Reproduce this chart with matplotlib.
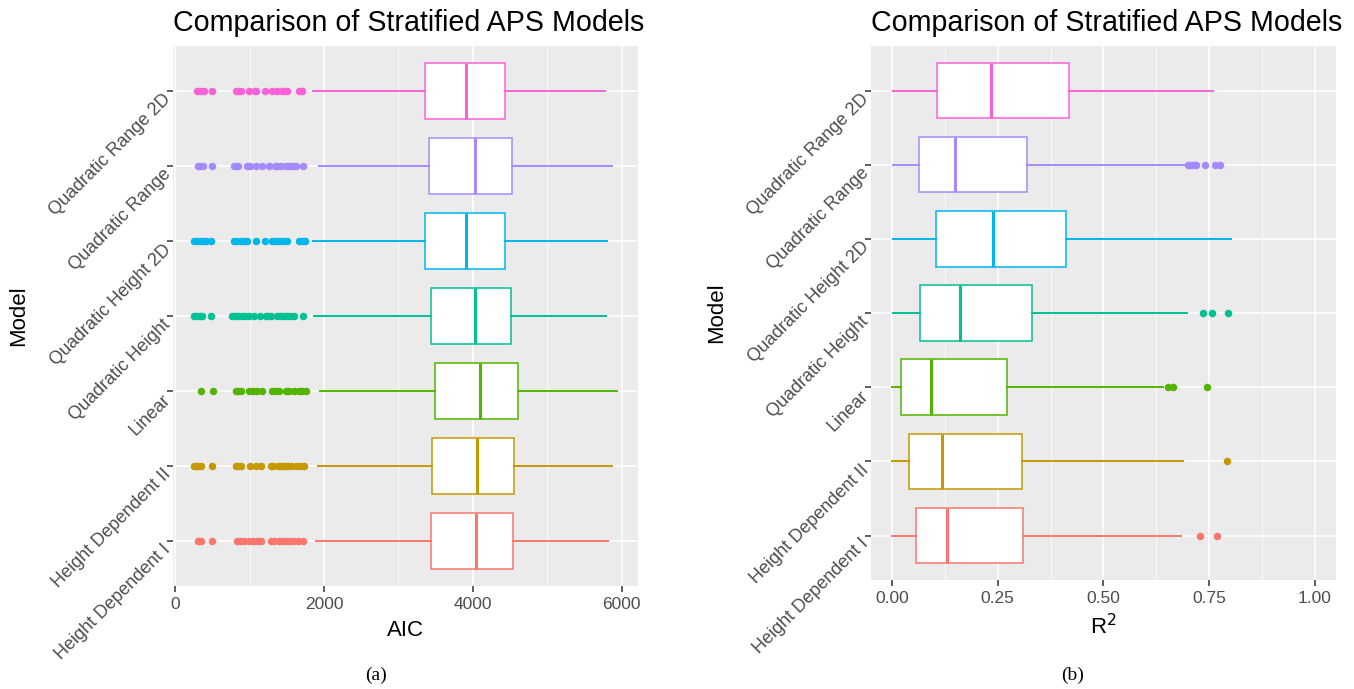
import numpy as np
import matplotlib
matplotlib.use("Agg")
import matplotlib.pyplot as plt
from matplotlib.ticker import MultipleLocator

plt.rcParams['font.family'] = ['Liberation Sans', 'DejaVu Sans']

# categories, bottom to top
models = ["Height Dependent I", "Height Dependent II", "Linear", "Quadratic Height",
          "Quadratic Height 2D", "Quadratic Range", "Quadratic Range 2D"]
colors = ["#F8766D", "#C49A00", "#53B400", "#00C094", "#00B6EB", "#A58AFF", "#FB61D7"]

# AIC box stats
aic_lo = [1895, 1917, 1944, 1863, 1850, 1930, 1850]
aic_q1 = [3434, 3456, 3488, 3434, 3358, 3412, 3358]
aic_med = [4047, 4060, 4091, 4025, 3913, 4034, 3903]
aic_q3 = [4540, 4553, 4607, 4513, 4427, 4521, 4427]
aic_hi = [5815, 5868, 5935, 5788, 5801, 5868, 5779]
aic_out = [
    [300, 320, 350, 499, 835, 870, 930, 990, 1040, 1100, 1150, 1290, 1330, 1390, 1430, 1480, 1530, 1580, 1650, 1720],
    [250, 280, 310, 340, 499, 812, 840, 879, 1000, 1080, 1148, 1290, 1320, 1380, 1420, 1460, 1500, 1560, 1620, 1680, 1729],
    [342, 503, 812, 845, 879, 990, 1040, 1103, 1170, 1305, 1340, 1393, 1483, 1530, 1595, 1661, 1700, 1752],
    [250, 290, 330, 365, 481, 768, 800, 840, 900, 940, 990, 1054, 1138, 1215, 1250, 1282, 1372, 1410, 1450, 1500, 1540, 1595, 1715],
    [250, 290, 330, 370, 410, 476, 790, 830, 880, 930, 970, 1080, 1200, 1305, 1350, 1400, 1450, 1506, 1660, 1700, 1750],
    [300, 335, 370, 490, 790, 820, 850, 970, 1010, 1080, 1170, 1260, 1335, 1370, 1415, 1483, 1520, 1560, 1590, 1617, 1715],
    [290, 320, 350, 380, 490, 820, 850, 880, 990, 1070, 1090, 1200, 1300, 1370, 1430, 1480, 1500, 1660, 1690, 1710],
]

# R^2 box stats
r2_lo = [0.0, 0.0, 0.0, 0.002, 0.003, 0.001, 0.003]
r2_q1 = [0.056, 0.039, 0.020, 0.067, 0.104, 0.063, 0.106]
r2_med = [0.129, 0.119, 0.093, 0.160, 0.238, 0.148, 0.235]
r2_q3 = [0.309, 0.307, 0.273, 0.332, 0.412, 0.319, 0.419]
r2_hi = [0.683, 0.688, 0.642, 0.697, 0.801, 0.691, 0.759]
r2_out = [
    [0.728, 0.770],
    [0.793],
    [0.652, 0.664, 0.745],
    [0.737, 0.757, 0.796],
    [],
    [0.700, 0.705, 0.710, 0.715, 0.720, 0.740, 0.765, 0.775],
    [],
]

TICK_COL = "#4D4D4D"


def draw_boxes(ax, lo, q1, med, q3, hi, out):
    for i in range(len(models)):
        st = dict(whislo=lo[i], q1=q1[i], med=med[i], q3=q3[i], whishi=hi[i], fliers=out[i])
        c = colors[i]
        ax.bxp([st], positions=[i + 1], widths=0.75, orientation='horizontal',
               patch_artist=True, showcaps=False,
               boxprops=dict(facecolor="white", edgecolor=c, linewidth=1.1),
               whiskerprops=dict(color=c, linewidth=1.4),
               medianprops=dict(color=c, linewidth=2.2),
               flierprops=dict(marker="o", markerfacecolor=c, markeredgecolor=c,
                               markersize=4.4, linestyle="none"),
               zorder=3)


def style_axes(ax, title, xlabel):
    ax.set_facecolor("#EBEBEB")
    for s in ax.spines.values():
        s.set_visible(False)
    ax.grid(True, which="major", color="white", linewidth=1.1, zorder=0)
    ax.grid(True, which="minor", axis="x", color="white", linewidth=0.55, zorder=0)
    ax.set_axisbelow(True)
    ax.set_ylim(0.4, 7.6)
    ax.set_yticks(range(1, len(models) + 1))
    ax.set_yticklabels(models, rotation=45, ha="right", va="top", rotation_mode="anchor")
    ax.tick_params(axis="both", which="major", length=4.3, width=1.1, color="#333333",
                   labelcolor=TICK_COL, labelsize=12.5, pad=3.5)
    ax.tick_params(axis="y", which="major", labelsize=13)
    ax.tick_params(axis="both", which="minor", length=0)
    ax.set_title(title, loc="left", fontsize=20.6, pad=11)
    ax.set_xlabel(xlabel, fontsize=16, labelpad=6)
    ax.set_ylabel("Model", fontsize=16)
    ax.yaxis.set_label_coords(-0.31, 0.5)


fig = plt.figure(figsize=(13.54, 6.89), dpi=100)
ax1 = fig.add_axes([0.1278, 0.1495, 0.3434, 0.7837])
ax2 = fig.add_axes([0.6433, 0.1582, 0.3432, 0.775])

draw_boxes(ax1, aic_lo, aic_q1, aic_med, aic_q3, aic_hi, aic_out)
ax1.set_xlim(-30, 6221)
ax1.set_xticks([0, 2000, 4000, 6000])
ax1.xaxis.set_minor_locator(MultipleLocator(1000))
style_axes(ax1, "Comparison of Stratified APS Models", "AIC")

draw_boxes(ax2, r2_lo, r2_q1, r2_med, r2_q3, r2_hi, r2_out)
ax2.set_xlim(-0.05, 1.05)
ax2.set_xticks([0, 0.25, 0.5, 0.75, 1.0])
ax2.set_xticklabels(["0.00", "0.25", "0.50", "0.75", "1.00"])
ax2.xaxis.set_minor_locator(MultipleLocator(0.125))
style_axes(ax2, "Comparison of Stratified APS Models", "R$^2$")

fig.text(376 / 1354, 1 - 675 / 689, "(a)", family="Liberation Serif", fontsize=14, ha="center", va="center")
fig.text(1073 / 1354, 1 - 675 / 689, "(b)", family="Liberation Serif", fontsize=14, ha="center", va="center")

fig.savefig("out.png", dpi=100)
